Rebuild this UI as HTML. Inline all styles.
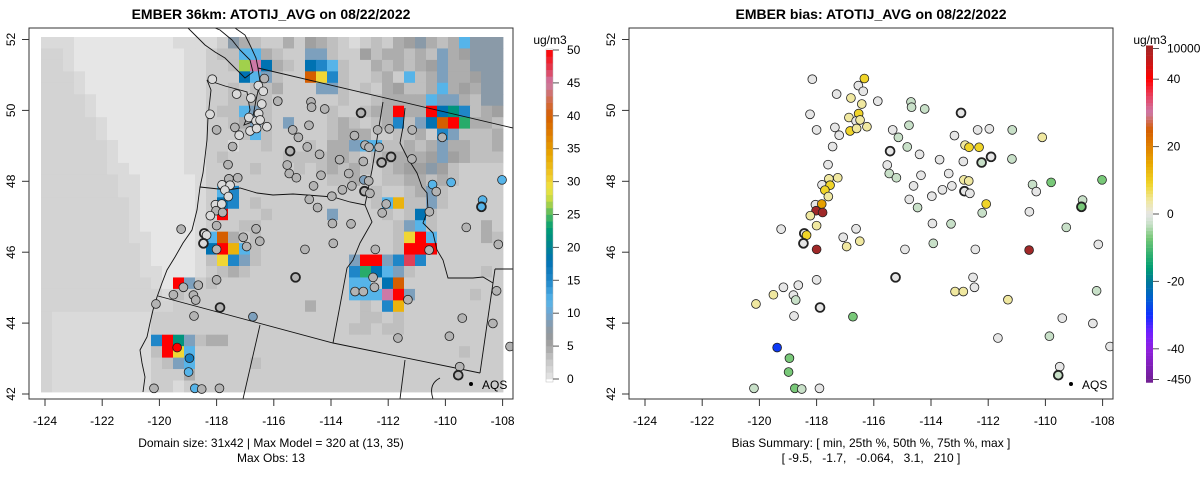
<!DOCTYPE html>
<html><head><meta charset="utf-8"><style>
body{margin:0;background:#fff}
svg{display:block;font-family:"Liberation Sans",sans-serif}
</style></head><body>
<svg id="chart" width="1200" height="479" viewBox="0 0 1200 479" xmlns="http://www.w3.org/2000/svg">
<defs>
<clipPath id="clipL"><rect x="29" y="28" width="484" height="371"/></clipPath>
<clipPath id="clipR"><rect x="629" y="28" width="484" height="371"/></clipPath>
</defs>
<g id="left"></g>
<g id="right"></g>
</svg>
<script>
// ---------- data ----------
const gridRows = [
"2221111111112222"+"4865446476542454678656b888",
"332111111111122"+"455bb6544ll5447566565l67888",
"332111111111122"+"445gPd654dmb544656567l66888",
"333211111111122"+"444dbl544OYm544564b56l66788",
"333211111111122"+"4454556444ll545467556b67688",
"333321111111122"+"44556544444454456666bll6588",
"333321111111122"+"455bl544444544566R66RdTm567",
"333332111111122"+"4456l54l444565456m5ldORG665",
"333332111111122"+"4445b5444445666445564ml5556",
"333333211111122"+"4424454445466lbb55656l66556",
"333333211111122"+"454444455556654566667l76555",
"333333221111122"+"444454445456565456778754444",
"333333322111112"+"444444444445564455665654444",
"333333322111112"+"4bm44444444444454456l544444",
"333333332111112"+"4dm4544444444445bA55l544444",
"333333332111112"+"4R444544444l4444545d5444444",
"333333332111112"+"444554444444444445lb5444464",
"333333332211112"+"bO6454444444444445YRb444465",
"333333333211112"+"dRAb54444444444445RRR444444",
"333333333211112"+"5Yml544444444lRRlmrm4444444",
"333333333221112"+"4565444444444mGdbl544444454",
"333333333321Rl4"+"5444444444444bb4dO444444444",
"333333333332544"+"4444444444444bbbPRl44444544",
"333333333333444"+"4444444446444454mA444444444",
"322222222244444"+"444444444444445545444444444",
"322222222244444"+"444444444444455455444444444",
"3222222222mRTl5"+"664444444444444444444444444",
"32222222225RYb4"+"444444444444444444444445444",
"322222222245lb4"+"444454444444444444444444444",
"322222222244464"+"444444444444444444444444444",
"322222222244244"+"444444444444444444444444444"
];
const codeValues = {"1":0,"2":1,"3":1.6,"4":2.3,"5":3.3,"6":4.5,"7":5.5,"8":8,"l":9,"b":12,"m":15,"d":18,"T":22,"G":24,"g":26.5,"Y":30,"A":33,"O":40,"P":45,"r":47,"R":50};
const stationLon = [-118.15,-116.33,-116.54,-116.37,-117.30,-116.80,-116.42,-115.86,-114.70,-114.68,-114.22,-112.95,-118.23,-116.53,-116.87,-116.62,-116.48,-118.00,-117.36,-116.83,-116.60,-116.24,-117.21,-115.34,-114.77,-115.14,-113.18,-112.37,-111.96,-111.16,-110.11,-117.44,-115.43,-114.83,-114.40,-112.81,-112.67,-112.32,-113.70,-112.87,-111.90,-112.23,-111.17,-117.60,-115.53,-115.46,-115.21,-114.35,-113.38,-117.57,-117.26,-112.85,-112.68,-117.81,-117.53,-117.71,-117.59,-114.61,-113.60,-113.27,-112.83,-112.64,-113.97,-110.45,-110.32,-109.80,-108.02,-118.04,-117.82,-118.02,-117.79,-118.22,-114.76,-114.47,-112.07,-112.21,-110.56,-108.70,-108.74,-118.00,-119.24,-118.43,-118.35,-118.46,-117.07,-116.62,-116.49,-116.95,-118.00,-113.95,-113.30,-109.27,-114.91,-113.92,-112.45,-110.57,-108.15,-118.00,-118.64,-119.16,-118.81,-118.73,-119.51,-120.12,-115.24,-112.53,-113.16,-112.87,-112.48,-111.31,-108.21,-117.88,-118.79,-116.73,-109.41,-108.34,-111.66,-109.86,-119.38,-118.95,-118.98,-120.19,-118.76,-118.52,-117.90,-109.50,-109.55,-107.74];
const stationLat = [50.88,50.90,50.70,50.54,50.46,50.35,50.18,50.26,50.24,50.09,50.04,49.93,49.89,49.91,49.80,49.70,49.73,49.45,49.52,49.42,49.49,49.54,49.30,49.45,49.58,49.24,49.29,49.45,49.48,49.45,49.24,48.98,48.85,48.97,48.76,49.02,48.96,48.96,48.61,48.56,48.69,48.53,48.63,48.47,48.46,48.22,48.10,48.17,48.22,48.07,48.10,48.04,48.01,47.90,47.89,47.75,47.57,47.87,47.76,47.87,47.72,47.66,47.58,47.91,47.71,47.97,48.04,47.34,47.36,47.17,47.12,47.03,47.49,47.26,47.36,47.11,47.14,47.47,47.28,46.75,46.65,46.53,46.48,46.25,46.42,46.66,46.31,46.16,46.08,46.81,46.80,46.70,46.08,46.25,46.08,46.06,46.22,45.22,45.07,45.01,44.79,44.65,44.80,44.54,45.29,45.29,44.89,44.89,45.01,44.66,44.91,44.44,44.20,44.18,44.14,43.99,43.58,43.63,43.31,43.01,42.62,42.16,42.16,42.14,42.16,42.77,42.53,43.34];
const stationObs = [1,4,1,1,1,1,1,4,4,4,4,4,1,1,1,1,1,4,4,1,1,1,1,4,4,4,4,4,4,4,4,4,4,4,4,4,4,4,4,4,4,4,4,4,4,4,4,4,4,4,4,9,4,1,1,1,1,4,4,4,4,4,4,12,4,12,12,1,1,4,4,1,4,4,4,4,4,12,12,4,4,1,1,1,4,4,4,4,4,4,4,4,4,4,4,4,4,4,4,4,4,4,4,4,4,4,4,4,4,4,4,4,4,9,4,4,4,4,50,16,12,4,12,4,4,4,4,4];
const stationBias = [0,9,0,0,0,4,4,0,-3,-3,-3,0,0,9,4,0,4,0,0,9,4,4,0,0,-3,-3,0,0,0,-3,4,0,0,-3,0,4,9,9,0,0,0,-3,-3,0,0,-3,-3,0,0,4,4,4,4,0,9,9,4,0,0,0,0,0,0,-3,0,-7,-7,0,16,50,50,4,0,-3,9,-3,0,-3,-7,4,0,0,9,0,0,0,4,4,50,0,-3,-3,0,-3,0,50,0,0,0,0,0,-3,4,4,0,0,4,4,0,4,-3,0,0,-7,0,0,0,-3,-29,-7,-7,-3,-7,-3,0,0,-3,0];
const thickIdx = [12,33,41,42,61,79,82,84,105,112,127];
const obsTicks = [0,5,10,15,20,25,30,35,40,45,50];
const biasTickVals = [50,40,20,0,-20,-40,-50];
const biasTickLabels = ["10000","40","20","0","-20","-40","-450"];
const lonTicks = [-124,-122,-120,-118,-116,-114,-112,-110,-108];
const latTicks = [42,44,46,48,50,52];

// ---------- scales ----------
const NS="http://www.w3.org/2000/svg";
function px(lon){return 45+(lon+124)*28.6;}
function py(lat){return 39.5+(52-lat)*35.45;}
const obsStops=[[0,"#e6e6e6"],[1,"#dadada"],[2,"#cfcfcf"],[3,"#c4c4c4"],[4,"#b3b3b3"],[5,"#a6a6a6"],[6,"#999999"],[8,"#8a9aa8"],[10,"#6fa6d2"],[12,"#56b4e9"],[15,"#1f86c8"],[18,"#0072b2"],[21,"#008a86"],[23,"#009e73"],[25,"#50b860"],[27,"#bcd845"],[29,"#f0e442"],[31,"#f0c828"],[34,"#e8a800"],[37,"#e08000"],[40,"#d55e00"],[43,"#d07060"],[45,"#cc79a7"],[47,"#e04058"],[50,"#ff0000"]];
const biasStops=[[-50,"#702090"],[-40,"#9020e0"],[-35,"#7020ff"],[-30,"#1030ff"],[-25,"#0060d0"],[-20,"#007898"],[-16,"#009e73"],[-12,"#30b070"],[-7,"#78c878"],[-3,"#c8e0c8"],[0,"#e6e6e6"],[4,"#f0e8a0"],[9,"#f0d428"],[15,"#e8a800"],[20,"#e08000"],[25,"#d55e00"],[30,"#cc79a7"],[35,"#e84060"],[40,"#ff0000"],[45,"#c81818"],[50,"#a02828"]];
function hex2(c){return [parseInt(c.substr(1,2),16),parseInt(c.substr(3,2),16),parseInt(c.substr(5,2),16)];}
function colorFrom(stops,v){
  if(v<=stops[0][0])return stops[0][1];
  for(let i=1;i<stops.length;i++){
    if(v<=stops[i][0]){
      const t=(v-stops[i-1][0])/(stops[i][0]-stops[i-1][0]);
      const a=hex2(stops[i-1][1]),b=hex2(stops[i][1]);
      return "rgb("+a.map((x,k)=>Math.round(x+(b[k]-x)*t)).join(",")+")";
    }
  }
  return stops[stops.length-1][1];
}
function mk(tag,attrs,parent){const e=document.createElementNS(NS,tag);for(const k in attrs)e.setAttribute(k,attrs[k]);parent.appendChild(e);return e;}

const basemap=[
"M258,68 L513,128",
"M207,80 L211,90 L208,117 L207,140 L205,157 L203,173 L200,187 L197,210 L192,230 L183,243 L175,257 L167,270 L162,283 L157,297 L153,310 L150,323 L147,337 L140,350 L142,363 L145,377 L143,392",
"M207,80 L225,86 L240,90 L247,92 L250,110 L244,125 L252,122 L256,100 L260,82 L258,68 L256,58 L250,45 L245,35 L235,28",
"M188,28 L195,35 L205,45 L215,52 L225,58 L237,70 L245,78 L253,72 L250,60 L240,50 L232,40 L220,30 L215,28",
"M200,187 L228,190 L240,188 L257,193 L273,195 L293,194 L307,195 L333,197 L350,202 L365,205",
"M383,102 L372,170 L365,205 L372,222 L360,243 L353,260 L347,268 L333,343",
"M158,296 L333,343 L480,373",
"M260,325 L243,399","M405,360 L400,399",
"M405,108 L403,127 L400,143 L407,157 L417,173 L422,187 L427,193 L428,210 L423,223 L433,233 L437,250 L443,260 L448,278 L473,278 L483,277 L493,283",
"M495,269 L480,373","M495,269 L513,269","M433,399 Q428,384 440,378"
];

function panel(g,off,isBias,title,clip){
  if(!isBias){
    const gg=mk("g",{"clip-path":"url(#"+clip+")"},g);
    
    
    gridRows.forEach((row,r)=>{
      for(let c=0;c<row.length;c++){
        const v=codeValues[row[c]];
        const cell=mk("rect",{x:41+c*11+off,y:37+r*11.45,width:11.4,height:11.9,fill:colorFrom(obsStops,v)},gg);
        
        
      }
    });
  }
  const bm=mk("g",{"clip-path":"url(#"+clip+")",transform:"translate("+off+",0)",fill:"none",stroke:"#111","stroke-width":"0.9"},g);
  
  
  basemap.forEach(d=>mk("path",{d:d},bm));
  const sg=mk("g",{"clip-path":"url(#"+clip+")"},g);
  
  
  for(let i=0;i<stationLon.length;i++){
    const thick=thickIdx.indexOf(i+1)>=0;
    const fill=isBias?colorFrom(biasStops,stationBias[i]):colorFrom(obsStops,stationObs[i]);
    const c=mk("circle",{cx:px(stationLon[i])+off,cy:py(stationLat[i]),r:4.4,fill:fill,stroke:"#222","stroke-width":thick?1.8:0.8},sg);
    
    
  }
  const lg=mk("g",{},g);
  
  
  mk("circle",{cx:471+off,cy:384,r:2,fill:"#000"},lg);
  const lt=mk("text",{x:482+off,y:389,"font-size":"12",fill:"#000"},lg);lt.textContent="AQS";
  const box=mk("rect",{x:29+off,y:28,width:484,height:371,fill:"none",stroke:"#333","stroke-width":"1"},g);
  
  
  const xa=mk("g",{},g);
  
  
  lonTicks.forEach(l=>{
    const x=px(l)+off;
    mk("line",{x1:x,y1:399,x2:x,y2:406,stroke:"#333"},xa);
    const t=mk("text",{x:x,y:425,"font-size":"12","text-anchor":"middle",fill:"#000"},xa);t.textContent=l;
  });
  const ya=mk("g",{},g);
  
  
  latTicks.forEach(l=>{
    const y=py(l);
    mk("line",{x1:22+off,y1:y,x2:29+off,y2:y,stroke:"#333"},ya);
    const t=mk("text",{x:0,y:0,"font-size":"12","text-anchor":"middle",fill:"#000",transform:"translate("+(15+off)+","+y+") rotate(-90)"},ya);t.textContent=l;
  });
  const tt=mk("text",{x:271+off,y:19,"font-size":"14","font-weight":"bold","text-anchor":"middle",fill:"#000"},g);
  tt.textContent=title;
  
  
}
const L=document.getElementById("left"),R=document.getElementById("right");
panel(L,0,false,"EMBER 36km: ATOTIJ_AVG on 08/22/2022","clipL");
panel(R,600,true,"EMBER bias: ATOTIJ_AVG on 08/22/2022","clipR");

function cap(parent,x,y,s,name){const t=mk("text",{x:x,y:y,"font-size":"12","text-anchor":"middle",fill:"#000",style:"white-space:pre"},parent);t.textContent=s;}
cap(L,271,447,"Domain size: 31x42 | Max Model = 320 at (13, 35)","domain-caption");
cap(L,271,462,"Max Obs: 13","max-obs-caption");
cap(R,871,447,"Bias Summary: [ min, 25th %, 50th %, 75th %, max ]","bias-summary-caption");
cap(R,871,462,"[ -9.5,   -1.7,   -0.064,   3.1,   210 ]","bias-summary-values");

const cbL=mk("g",{},L);


function obsY(v){return 379-v*6.58;}
for(let v=0;v<50;v++){
  mk("rect",{x:546,y:obsY(v+1),width:7,height:6.9,fill:colorFrom(obsStops,v+0.5)},cbL);
}
mk("rect",{x:546,y:obsY(50)-1,width:7,height:obsY(0)-obsY(50)+4,fill:"none",stroke:"#bbb","stroke-width":"0.5"},cbL);
obsTicks.forEach(v=>{
  const y=obsY(v);
  mk("line",{x1:553,y1:y,x2:559,y2:y,stroke:"#555"},cbL);
  const t=mk("text",{x:567,y:y+4,"font-size":"12",fill:"#000"},cbL);t.textContent=v;
});
const uL=mk("text",{x:550,y:44,"font-size":"12","text-anchor":"middle",fill:"#000"},cbL);uL.textContent="ug/m3";

const cbR=mk("g",{},R);


function biasY(v){return 214-v*3.37;}
for(let v=-50;v<50;v++){
  mk("rect",{x:1146,y:biasY(v+1),width:7,height:3.6,fill:colorFrom(biasStops,v+0.5)},cbR);
}
biasTickVals.forEach((v,i)=>{
  const y=biasY(v)+(v===50?3:(v===-50?-3:0));
  mk("line",{x1:1153,y1:y,x2:1159,y2:y,stroke:"#555"},cbR);
  const t=mk("text",{x:1167,y:y+4,"font-size":"12",fill:"#000"},cbR);t.textContent=biasTickLabels[i];
});
const uR=mk("text",{x:1150,y:44,"font-size":"12","text-anchor":"middle",fill:"#000"},cbR);uR.textContent="ug/m3";
</script>
</body></html>
